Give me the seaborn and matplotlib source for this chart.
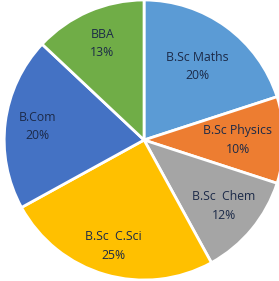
import numpy as np
import seaborn as sns
import matplotlib.pyplot as plt

sns.set_theme(style="white")
plt.rcParams['font.family'] = ['Open Sans', 'DejaVu Sans']

courses = ['B.Sc Maths', 'B.Sc Physics', 'B.Sc  Chem', 'B.Sc  C.Sci', 'B.Com', 'BBA']
shares = [20, 10, 12, 25, 20, 13]
colors = ['#5B9BD5', '#ED7D31', '#A5A5A5', '#FFC000', '#4472C4', '#70AD47']

# how far out each label sits (fraction of radius)
label_r = [0.65, 0.67, 0.74, 0.79, 0.77, 0.75]

fig = plt.figure(figsize=(2.79, 2.81), dpi=100)
ax = fig.add_axes([0, 0, 1, 1])

labels = [f'{c}\n{s}%' for c, s in zip(courses, shares)]
wedges, texts = ax.pie(shares, labels=labels, colors=colors, startangle=90,
                       counterclock=False, labeldistance=0.7,
                       wedgeprops=dict(edgecolor='white', linewidth=2),
                       textprops=dict(color='#1c2a48', fontsize=8.8,
                                      ha='center', va='center',
                                      linespacing=1.55))

for w, t, r in zip(wedges, texts, label_r):
    mid = np.deg2rad((w.theta1 + w.theta2) / 2)
    t.set_position((r * np.cos(mid), r * np.sin(mid)))

ax.set_xlim(-1.03, 0.965)
ax.set_ylim(-1.007, 1.0)
ax.set_aspect('auto')
ax.axis('off')

fig.savefig('out.png', dpi=100, facecolor='white')
